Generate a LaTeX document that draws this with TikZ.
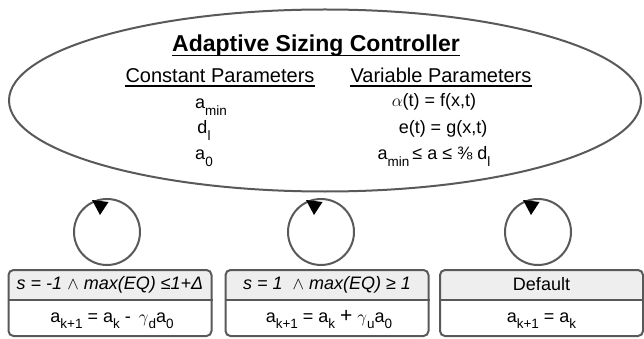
\documentclass[tikz,border=0pt]{standalone}
\usepackage{fontspec}
\setmainfont{Liberation Sans}
\usetikzlibrary{shapes.geometric}
\definecolor{edge}{HTML}{595959}
\definecolor{hdr}{HTML}{EEEEEE}
\newcommand\sbs[1]{\raisebox{-0.35em}{\fontsize{13.5}{13.5}\selectfont #1}}
\begin{document}
\begin{tikzpicture}[x=1pt,y=-1pt,
  txt/.style={inner sep=0pt, anchor=base, font=\fontsize{18}{21}\selectfont},
  head/.style={inner sep=0pt, anchor=base, font=\fontsize{20}{24}\selectfont},
  ttl/.style={inner sep=0pt, anchor=base, font=\fontsize{23}{27}\selectfont\bfseries},
  ctl/.style={draw=edge, line width=2pt, ellipse, minimum width=632pt, minimum height=182pt, inner sep=0pt},
  loopc/.style={draw=edge, line width=2pt, circle, minimum size=66pt, inner sep=0pt},
  box/.style={draw=edge, line width=2pt, rounded corners=5pt, minimum width=203pt, minimum height=66pt, inner sep=0pt},
  hdrtxt/.style={inner sep=0pt, font=\fontsize{18}{21}\selectfont\itshape},
  tip/.style={fill=black}
]
\useasboundingbox (0,0) rectangle (644,339);
% controller ellipse
\node[ctl] (ctl) at (325,100.5) {};
\node[ttl] (title) at (316,52) {Adaptive Sizing Controller};
\draw[line width=1.6pt] ([yshift=-3.5pt]title.base west) -- ([yshift=-3.5pt]title.base east);
\node[head] (cp) at (220,83) {Constant Parameters};
\draw[line width=1.2pt] ([yshift=-3pt]cp.base west) -- ([yshift=-3pt]cp.base east);
\node[head] (vp) at (441,83) {Variable Parameters};
\draw[line width=1.2pt] ([yshift=-3pt]vp.base west) -- ([yshift=-3pt]vp.base east);
\node[txt] (amin) at (211,109) {a\sbs{min}};
\node[txt] (dl) at (204,134) {d\sbs{l}};
\node[txt] (a0) at (204,160) {a\sbs{0}};
\node[txt] (alpha) at (434,107) {$\alpha$(t) = f(x,t)};
\node[txt] (et) at (443,134) {e(t) = g(x,t)};
\node[txt] (range) at (434,160) {a\sbs{min}\,≤ a ≤ ⅜ d\sbs{l}};
% loops
\foreach \i/\x in {1/107,2/321,3/538}{
  \node[loopc] (l\i) at (\x,232) {};
  \fill[tip] ([shift={(-15,-32)}]l\i.center) -- ([shift={(1.5,-30)}]l\i.center) -- ([shift={(-7,-17)}]l\i.center) -- cycle;
}
% boxes
\foreach \i/\x in {1/110,2/327,3/541.5}{
  \begin{scope}
    \clip (\x-110,260) rectangle (\x+110,300);
    \node[box, fill=hdr, draw=none] at (\x,303) {};
  \end{scope}
  \node[box] (b\i) at (\x,303) {};
  \draw[draw=edge, line width=1.5pt] (b\i.west |- 0,300) -- (b\i.east |- 0,300);
}
\node[hdrtxt] (h1) at (110,284.5) {s = -1 $\wedge$ max(EQ) ≤1+Δ};
\node[hdrtxt] (h2) at (327,284.5) {s = 1 \ $\wedge$ max(EQ) ≥ 1};
\node[hdrtxt, font=\fontsize{18}{21}\selectfont] (h3) at (541.5,284.5) {Default};
\node[txt] (e1) at (112,322) {a\sbs{k+1} = a\sbs{k} - \,$\gamma$\sbs{d}a\sbs{0}};
\node[txt] (e2) at (329,322) {a\sbs{k+1} = a\sbs{k} {\fontsize{21}{21}\selectfont +} $\gamma$\sbs{u}a\sbs{0}};
\node[txt] (e3) at (541.5,322) {a\sbs{k+1} = a\sbs{k}};
\end{tikzpicture}
\end{document}
